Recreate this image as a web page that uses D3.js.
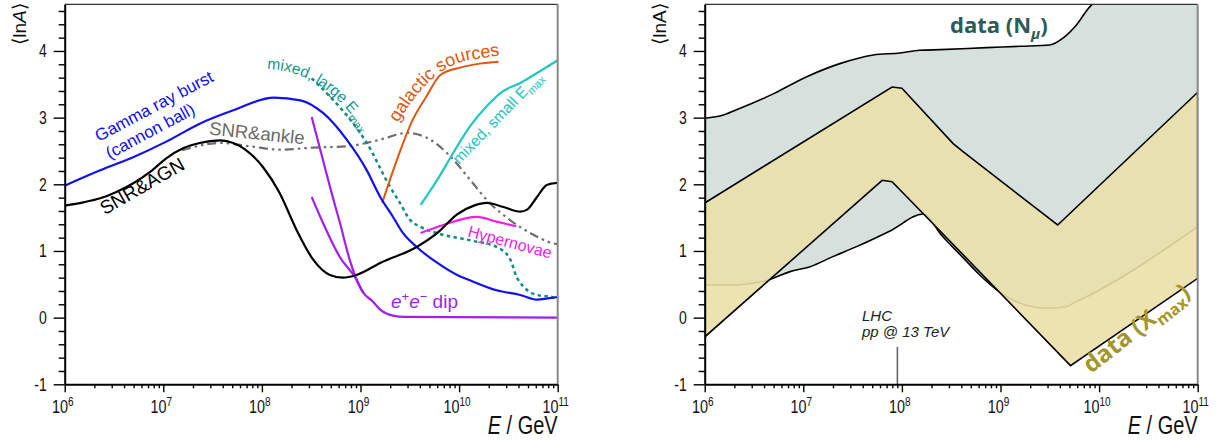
<!DOCTYPE html>
<html><head><meta charset="utf-8">
<script src="https://cdn.jsdelivr.net/npm/d3@7"></script>
<style>body{margin:0;background:#fff} svg{display:block}</style>
</head><body>
<svg id="c" width="1217" height="440"></svg>
<script>
// ---------- data (x = log10(E/GeV), y = <lnA>) ----------
const xTickExponents = [6, 7, 8, 9, 10, 11];
const yTickValues = [-1, 0, 1, 2, 3, 4];

const snrAgn = [[6.0,1.68],[6.19,1.73],[6.36,1.79],[6.53,1.89],[6.70,2.02],[6.87,2.19],[7.03,2.39],[7.20,2.54],[7.37,2.62],[7.58,2.66],[7.71,2.62],[8.01,2.26],[8.18,1.87],[8.35,1.32],[8.52,0.87],[8.69,0.64],[8.82,0.60],[8.96,0.64],[9.2,0.82],[9.57,1.06],[9.78,1.27],[9.98,1.55],[10.15,1.68],[10.28,1.72],[10.45,1.66],[10.62,1.59],[10.69,1.62],[10.79,1.81],[10.89,1.99],[11.0,2.02]];
const gammaRayBurst = [[6.0,1.98],[6.36,2.21],[6.70,2.41],[7.03,2.64],[7.37,2.91],[7.71,3.11],[8.12,3.30],[8.39,3.26],[8.62,3.07],[8.86,2.67],[9.06,2.22],[9.2,1.81],[9.33,1.51],[9.43,1.27],[9.57,1.06],[9.78,0.82],[9.98,0.64],[10.11,0.56],[10.38,0.41],[10.62,0.34],[10.79,0.27],[10.9,0.29],[11.0,0.31]];
const snrAnkle = [[7.19,2.51],[7.58,2.62],[7.88,2.57],[8.18,2.52],[8.52,2.55],[8.86,2.57],[9.2,2.67],[9.47,2.77],[9.67,2.70],[9.91,2.42],[10.11,2.07],[10.31,1.72],[10.52,1.46],[10.72,1.27],[10.94,1.12],[11.0,1.10]];
const mixedLargeEmax = [[8.505,3.59],[8.72,3.27],[8.89,2.98],[9.06,2.63],[9.30,1.96],[9.40,1.72],[9.50,1.47],[9.61,1.36],[9.77,1.27],[10.11,1.16],[10.38,1.06],[10.52,0.87],[10.58,0.62],[10.65,0.47],[10.79,0.34],[10.94,0.31],[11.0,0.28]];
const galacticSources = [[9.22,1.72],[9.37,2.37],[9.53,2.97],[9.67,3.32],[9.81,3.64],[10.01,3.75],[10.21,3.81],[10.40,3.84]];
const mixedSmallEmax = [[9.61,1.69],[9.78,2.07],[9.94,2.47],[10.11,2.87],[10.28,3.17],[10.45,3.40],[10.62,3.52],[10.79,3.67],[11.0,3.86]];
const hypernovae = [[9.61,1.27],[9.84,1.39],[10.18,1.51],[10.38,1.44],[10.58,1.37]];
const eeDipSteep = [[8.505,3.01],[8.62,2.36],[8.72,1.80],[8.79,1.43],[8.89,0.87],[8.99,0.47],[9.03,0.37]];
const eeDipMain = [[8.505,1.81],[8.62,1.42],[8.79,0.91],[8.96,0.57],[9.03,0.37],[9.12,0.25],[9.2,0.12],[9.33,0.03],[9.45,0.01],[11.0,0.0]];

// right panel bands
const nmuUpper = [[6.0,2.99],[6.19,3.04],[6.36,3.14],[6.70,3.36],[7.03,3.61],[7.37,3.81],[7.71,3.94],[7.98,3.97],[8.18,4.01],[8.39,4.02],[8.86,4.05],[9.20,4.07],[9.50,4.09],[9.64,4.20],[9.77,4.39],[9.91,4.67],[9.95,4.72],[11.0,4.72]];
const nmuLower = [[6.0,0.49],[6.3,0.49],[6.5,0.52],[6.645,0.565],[6.865,0.69],[7.07,0.765],[7.30,0.915],[7.54,1.065],[7.88,1.30],[8.22,1.555],[8.40,1.24],[8.62,0.90],[8.79,0.64],[8.96,0.42],[9.20,0.215],[9.47,0.14],[9.64,0.155],[9.77,0.24],[11.0,1.365]];
const xmaxUpper = [[6.0,1.72],[7.90,3.46],[8.0,3.44],[8.52,2.61],[8.62,2.49],[9.58,1.39],[11.0,3.38]];
const xmaxLower = [[6.0,-0.29],[7.80,2.06],[7.90,2.04],[8.21,1.57],[9.71,-0.72],[11.0,0.59]];
const lhcEnergy = 9.0e7;

// ---------- layout ----------
const svg = d3.select("#c");
const FONT = "'Liberation Sans', Arial, Helvetica, sans-serif";
const SQ = 0.8;
const y = d3.scaleLinear().domain([-1, 4.7]).range([384.3, 4.3]);
const xL = d3.scaleLog().domain([1e6, 1e11]).range([64.7, 557.7]);
const xR = d3.scaleLog().domain([1e6, 1e11]).range([704.7, 1197.7]);

const defs = svg.append("defs");
function clip(id, x) {
  defs.append("clipPath").attr("id", id).append("rect")
    .attr("x", x.range()[0]).attr("y", y.range()[1])
    .attr("width", x.range()[1] - x.range()[0]).attr("height", y.range()[0] - y.range()[1]);
}
clip("clipL", xL); clip("clipR", xR);

function lineGen(x, curve) {
  return d3.line().x(d => x(Math.pow(10, d[0]))).y(d => y(d[1])).curve(curve || d3.curveMonotoneX);
}

// ---------- right panel bands ----------
const gR = svg.append("g").attr("clip-path", "url(#clipR)");
const areaUp = d3.area().x(d => xR(Math.pow(10, d[0]))).y0(y(-1)).y1(d => y(d[1])).curve(d3.curveMonotoneX);
gR.append("path").attr("d", areaUp(nmuUpper)).attr("fill", "#d6e0dc");
gR.append("path").attr("d", areaUp(nmuLower)).attr("fill", "#ffffff");
gR.append("path").attr("d", lineGen(xR)(nmuUpper)).attr("fill", "none").attr("stroke", "#000").attr("stroke-width", 1.6);
gR.append("path").attr("d", lineGen(xR)(nmuLower)).attr("fill", "none").attr("stroke", "#000").attr("stroke-width", 1.6);
const poly = lineGen(xR, d3.curveLinear)(xmaxUpper.concat(xmaxLower.slice().reverse())) + "Z";
gR.append("path").attr("d", poly).attr("fill", "#eae0a8").attr("fill-opacity", 0.9)
  .attr("stroke", "#000").attr("stroke-width", 1.6).attr("stroke-linejoin", "miter");

// LHC marker
svg.append("line").attr("x1", xR(lhcEnergy)).attr("x2", xR(lhcEnergy))
  .attr("y1", y(-0.44)).attr("y2", y(-1)).attr("stroke", "#666").attr("stroke-width", 1.6);
const lhc = svg.append("text").style("font", "italic 15px " + FONT).attr("fill", "#222");
lhc.append("tspan").attr("x", 862).attr("y", 321).text("LHC");
lhc.append("tspan").attr("x", 862).attr("y", 337).text("pp @ 13 TeV");

// band labels
const nmuLab = svg.append("text").attr("x", 950).attr("y", 33)
  .style("font", "bold 22px 'Open Sans', Lato, sans-serif").attr("fill", "#2b5c58");
nmuLab.append("tspan").text("data (N");
nmuLab.append("tspan").attr("dy", 6).style("font-size", "15px").style("font-style", "italic").text("\u03bc");
nmuLab.append("tspan").attr("dy", -6).text(")");

const xmLab = svg.append("text").attr("transform", "translate(1091,374) rotate(-38)")
  .style("font", "bold 24px 'Open Sans', Lato, sans-serif").attr("fill", "#a6952a");
xmLab.append("tspan").text("data (X");
xmLab.append("tspan").attr("dy", 6).style("font-size", "16px").text("max");
xmLab.append("tspan").attr("dy", -6).text(")");

// ---------- left panel curves ----------
const gL = svg.append("g").attr("clip-path", "url(#clipL)");
function curve(data, color, w, dash) {
  const p = gL.append("path").attr("d", lineGen(xL)(data)).attr("fill", "none")
    .attr("stroke", color).attr("stroke-width", w).attr("stroke-linejoin", "round");
  if (dash) p.attr("stroke-dasharray", dash);
}
curve(snrAnkle, "#6e6e6e", 2.2, "9,4,2.5,4,2.5,4");
curve(mixedLargeEmax, "#0e8c8a", 2.5, "3.5,3.4");
curve(galacticSources, "#e0560e", 2);
curve(mixedSmallEmax, "#20c6c6", 2.2);
curve(hypernovae, "#f01ee6", 2.2);
curve(eeDipSteep, "#a21ff0", 2.2);
curve(eeDipMain, "#a21ff0", 2.2);
curve(gammaRayBurst, "#1010f5", 2.2);
curve(snrAgn, "#000000", 2.2);

function rotLabel(cx, cy, ang, size, color, txt, anchor) {
  const t = svg.append("text").attr("transform", `translate(${cx},${cy}) rotate(${ang})`)
    .attr("text-anchor", anchor || "middle").attr("dy", "0.35em")
    .style("font", size + "px " + FONT).attr("fill", color);
  if (txt) t.text(txt);
  return t;
}
rotLabel(154, 106, -28, 17, "#1010f5", "Gamma ray burst");
rotLabel(150, 131, -28, 17, "#1010f5", "(cannon ball)");
rotLabel(142, 186, -30, 19, "#000", "SNR&AGN");
rotLabel(257, 133, 6, 18.5, "#6a6a6a", "SNR&ankle");
rotLabel(510, 242, 15, 16, "#f01ee6", "Hypernovae");

const ms = svg.append("text").attr("transform", "translate(459,165) rotate(-46)")
  .style("font", "15.5px " + FONT).attr("fill", "#1ec3c3");
ms.append("tspan").text("mixed, small E");
ms.append("tspan").attr("dy", 4).style("font-size", "11px").text("max");

defs.append("path").attr("id", "galPath").attr("d", "M398,123 Q431,66 470,60 L515,53");
svg.append("text").style("font", "18px " + FONT).attr("fill", "#e0560e")
  .append("textPath").attr("href", "#galPath").text("galactic sources");

defs.append("path").attr("id", "mlPath").attr("d", "M267,69 C300,70 334,86 364,132");
const ml = svg.append("text").style("font", "15.5px " + FONT).attr("fill", "#17958f")
  .append("textPath").attr("href", "#mlPath");
ml.append("tspan").text("mixed, large E");
ml.append("tspan").attr("dy", 5).style("font-size", "11px").text("max");

const ee = svg.append("text").attr("x", 391).attr("y", 308)
  .style("font", "19px " + FONT).attr("fill", "#a21ff0");
ee.append("tspan").style("font-style", "italic").text("e");
ee.append("tspan").attr("dy", -7).style("font-size", "13px").text("+");
ee.append("tspan").attr("dy", 7).style("font-style", "italic").text("e");
ee.append("tspan").attr("dy", -7).style("font-size", "13px").text("\u2212");
ee.append("tspan").attr("dy", 7).text(" dip");

// ---------- axes ----------
function axes(x) {
  const g = svg.append("g");
  const x0 = x.range()[0], x1 = x.range()[1];
  const majors = xTickExponents.map(e => Math.pow(10, e));
  const minors = [];
  xTickExponents.slice(0, -1).forEach(e => { for (let k = 2; k <= 9; k++) minors.push(k * Math.pow(10, e)); });
  const yMinors = d3.range(-10, 48, 2).filter(v => v % 10 !== 0).map(v => v / 10);

  const style = s => s.call(a => a.selectAll(".tick line").attr("stroke", "#000").attr("stroke-width", 1.4))
                      .call(a => a.selectAll(".tick text").remove());
  g.append("g").attr("transform", `translate(0,${y(-1)})`)
    .call(d3.axisBottom(x).tickValues(minors).tickSize(4).tickSizeOuter(0).tickFormat(""))
    .call(style).call(a => a.select(".domain").remove());
  g.append("g").attr("transform", `translate(${x0},0)`)
    .call(d3.axisLeft(y).tickValues(yMinors).tickSize(6).tickSizeOuter(0).tickFormat(""))
    .call(style).call(a => a.select(".domain").remove());
  g.append("g").attr("transform", `translate(0,${y(-1)})`)
    .call(d3.axisBottom(x).tickValues(majors).tickSize(8).tickSizeOuter(0).tickFormat(""))
    .call(style).call(a => a.select(".domain").attr("stroke", "#000").attr("stroke-width", 2));
  g.append("g").attr("transform", `translate(${x0},0)`)
    .call(d3.axisLeft(y).tickValues(yTickValues).tickSize(11).tickSizeOuter(0).tickFormat(""))
    .call(style).call(a => a.select(".domain").attr("stroke", "#000").attr("stroke-width", 2));

  // frame
  g.append("line").attr("x1", x0).attr("x2", x1).attr("y1", y(4.7)).attr("y2", y(4.7))
    .attr("stroke", "#333").attr("stroke-width", 1.2);
  g.append("line").attr("x1", x1).attr("x2", x1).attr("y1", y(4.7)).attr("y2", y(-1))
    .attr("stroke", "#888").attr("stroke-width", 2);

  // x labels
  xTickExponents.forEach(e => {
    const t = g.append("g").attr("transform", `translate(${x(Math.pow(10, e)) - 2},413) scale(${SQ},1)`)
      .append("text").attr("text-anchor", "middle").style("font", "18px " + FONT).attr("fill", "#111");
    t.append("tspan").text("10");
    t.append("tspan").attr("dy", -7).style("font-size", "12.5px").text(e);
  });
  // y labels
  yTickValues.forEach(v => {
    g.append("g").attr("transform", `translate(${x0 - 18},${y(v)}) scale(${SQ},1)`)
      .append("text").attr("text-anchor", "end").attr("dy", "0.36em")
      .style("font", "17.5px " + FONT).attr("fill", "#111").text(v);
  });
  // axis titles
  const xt = g.append("g").attr("transform", `translate(${x1},434) scale(0.8,1)`)
    .append("text").attr("text-anchor", "end").style("font", "25px " + FONT).attr("fill", "#111");
  xt.append("tspan").style("font-style", "italic").text("E");
  xt.append("tspan").text(" / GeV");
  return g;
}
const axL = axes(xL);
const axR = axes(xR);

function yTitle(x0, italicA) {
  const t = svg.append("text").attr("transform", `translate(${x0 - 39},24) rotate(-90)`)
    .attr("text-anchor", "middle").style("font", "19px " + FONT).attr("fill", "#111");
  t.append("tspan").text("\u27e8ln");
  t.append("tspan").style("font-style", italicA ? "italic" : "normal").text("A");
  t.append("tspan").text("\u27e9");
}
yTitle(xL.range()[0], true);
yTitle(xR.range()[0], false);
</script>
</body></html>
